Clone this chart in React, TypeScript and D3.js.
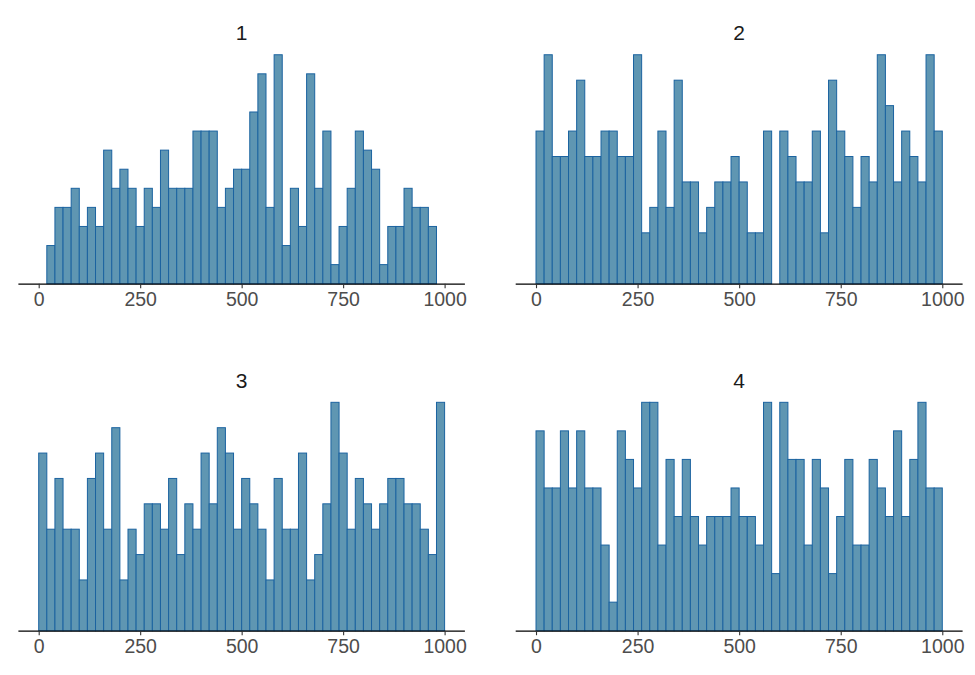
import React, { useEffect, useRef } from "react";
import * as d3 from "d3";

// bins of width 20 from 0 to 1000, counts
const binEdges = d3.range(0, 1000, 20);
const panelNames = ["1", "2", "3", "4"];
const counts1 = [0, 2, 4, 4, 5, 3, 4, 3, 7, 5, 6, 5, 3, 5, 4, 7, 5, 5, 5, 8, 8, 8, 4, 5, 6, 6, 9, 11, 4, 12, 2, 5, 3, 11, 5, 8, 1, 3, 5, 8, 7, 6, 1, 3, 3, 5, 4, 4, 3, 0];
const counts2 = [6, 9, 5, 5, 6, 8, 5, 5, 6, 6, 5, 5, 9, 2, 3, 6, 3, 8, 4, 4, 2, 3, 4, 4, 5, 4, 2, 2, 6, 0, 6, 5, 4, 4, 6, 2, 8, 6, 5, 3, 5, 4, 9, 7, 4, 6, 5, 4, 9, 6];
const counts3 = [7, 4, 6, 4, 4, 2, 6, 7, 4, 8, 2, 4, 3, 5, 5, 4, 6, 3, 5, 4, 7, 5, 8, 7, 4, 6, 5, 4, 2, 6, 4, 4, 7, 2, 3, 5, 9, 7, 4, 6, 5, 4, 5, 6, 6, 5, 5, 4, 3, 9];
const counts4 = [7, 5, 5, 7, 5, 7, 5, 5, 3, 1, 7, 6, 5, 8, 8, 3, 6, 4, 6, 4, 3, 4, 4, 4, 5, 4, 4, 3, 8, 2, 8, 6, 6, 3, 6, 5, 2, 4, 6, 3, 3, 6, 5, 4, 7, 4, 6, 8, 5, 5];
const xTicks = [0, 250, 500, 750, 1000];

const W = 975;
const H = 675;

function App() {
  const svgRef = useRef<SVGSVGElement>(null);

  useEffect(() => {
    const svg = d3.select(svgRef.current).attr("width", W).attr("height", H);
    svg.selectAll("*").remove();

    const allCounts = [counts1, counts2, counts3, counts4];
    // panel boxes: [left, right, bottom, top]
    const boxes = [
      [18.4, 464.9, 283.7, 43.3],
      [515.7, 962.6, 283.7, 43.3],
      [18.4, 464.9, 630.7, 390.9],
      [515.7, 962.6, 630.7, 390.9],
    ];

    allCounts.forEach((counts, p) => {
      const [l, r, b, t] = boxes[p];
      const x = d3.scaleLinear().domain([-50, 1050]).range([l, r]);
      const maxC = d3.max(counts) as number;
      const y = d3.scaleLinear().domain([0, maxC * 1.05]).range([b, t]);
      const g = svg.append("g");

      g.selectAll("rect")
        .data(counts)
        .join("rect")
        .attr("x", (d, i) => x(binEdges[i]))
        .attr("y", (d) => y(d))
        .attr("width", x(20) - x(0))
        .attr("height", (d) => b - y(d))
        .attr("fill", "#5f96b2")
        .attr("stroke", "#1b63a0")
        .attr("stroke-width", 1);

      const xAxis = d3.axisBottom(x).tickValues(xTicks).tickSize(4.5).tickPadding(4).tickFormat(d3.format("d"));
      g.append("g")
        .attr("transform", `translate(0, ${b})`)
        .call(xAxis)
        .call((ax) => {
          ax.select(".domain").attr("stroke", "black").attr("stroke-width", 1.3);
          ax.selectAll(".tick line").attr("stroke", "#333").attr("stroke-width", 1.1);
          ax.selectAll(".tick text")
            .attr("fill", "#4d4d4d")
            .attr("font-size", 19.5)
            .attr("font-family", "Liberation Sans, Arial, sans-serif");
        });
      g.select(".domain").attr("d", `M${l},0.5H${r}`);

      g.append("text")
        .attr("x", (l + r) / 2)
        .attr("y", t - 3)
        .attr("text-anchor", "middle")
        .attr("font-size", 21)
        .attr("font-family", "Liberation Sans, Arial, sans-serif")
        .attr("fill", "#1a1a1a")
        .text(panelNames[p]);
    });
  }, []);

  return (
    <div style={{ position: "fixed", left: 0, top: 0, background: "white" }}>
      <svg ref={svgRef}></svg>
    </div>
  );
}

export default App;
